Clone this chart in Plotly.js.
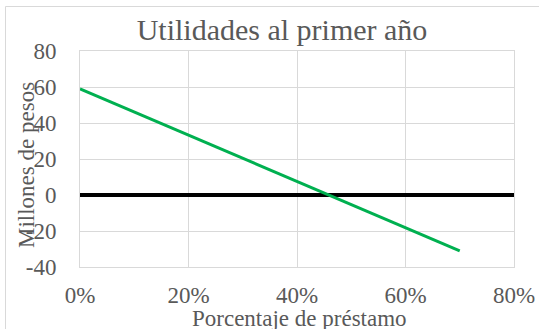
<!DOCTYPE html>
<html>
<head>
<meta charset="utf-8">
<script src="https://cdn.plot.ly/plotly-3.0.1.min.js"></script>
<style>html,body{margin:0;padding:0;background:#fff;}#chart{width:539px;height:329px;}</style>
</head>
<body>
<div id="chart"></div>
<script>
const prestamo = [0, 0.1, 0.2, 0.3, 0.4, 0.5, 0.6, 0.7];
const utilidades = [59, 46.1, 33.3, 20.4, 7.6, -5.3, -18.1, -31];
const zeroX = [0, 0.8];
const zeroY = [0, 0];
const xTickVals = [0, 0.2, 0.4, 0.6, 0.8];
const xTickText = ["0%", "20%", "40%", "60%", "80%"];
const yTickVals = [-40, -20, 0, 20, 40, 60, 80];
const yTickText = ["-40", "-20", "0", "20", "40", "60", "80"];
const titleText = "Utilidades al primer año";
const xTitle = "Porcentaje de préstamo";
const yTitle = "Millones de pesos";

const font = "'Liberation Serif', 'Times New Roman', serif";
const gray = "#595959";
const grid = "#d9d9d9";

const traces = [
  {x: zeroX, y: zeroY, mode: "lines", line: {color: "#000000", width: 4}, hoverinfo: "skip"},
  {x: prestamo, y: utilidades, mode: "lines", line: {color: "#00b050", width: 3}}
];

const layout = {
  width: 539, height: 329,
  margin: {l: 80, r: 25, t: 51, b: 62},
  paper_bgcolor: "#fff", plot_bgcolor: "#fff",
  showlegend: false,
  font: {family: font, color: gray, size: 23},
  title: {text: titleText, font: {family: font, size: 30, color: gray},
          xref: "container", x: 282/539, xanchor: "center",
          yref: "container", y: 1 - 29/329, yanchor: "middle"},
  xaxis: {range: [0, 0.8], tickmode: "array", tickvals: xTickVals, ticktext: xTickText,
          showgrid: true, gridcolor: grid, gridwidth: 1,
          showline: true, linecolor: grid, linewidth: 1, mirror: true,
          zeroline: false, ticks: "", ticklabelstandoff: 7,
          tickfont: {family: font, size: 23, color: gray}},
  yaxis: {range: [-40, 80], tickmode: "array", tickvals: yTickVals, ticktext: yTickText,
          showgrid: true, gridcolor: grid, gridwidth: 1,
          showline: true, linecolor: grid, linewidth: 1, mirror: true,
          zeroline: false, ticks: "", ticklabelstandoff: 18,
          tickfont: {family: font, size: 23, color: gray}},
  annotations: [
    {text: xTitle, xref: "paper", yref: "paper", x: (299-80)/434, y: (267-318)/216,
     xanchor: "center", yanchor: "middle", showarrow: false,
     font: {family: font, size: 23, color: gray}},
    {text: yTitle, xref: "paper", yref: "paper", x: (26-80)/434, y: (267-165)/216,
     xanchor: "center", yanchor: "middle", textangle: -90, showarrow: false,
     font: {family: font, size: 23, color: gray}}
  ],
  shapes: [
    {type: "rect", xref: "paper", yref: "paper", x0: (5.5-80)/434, x1: 1.3, y0: -0.5, y1: (267-6.5)/216,
     line: {color: grid, width: 1}, fillcolor: "rgba(0,0,0,0)", layer: "below"}
  ]
};

Plotly.newPlot("chart", traces, layout, {staticPlot: true, displayModeBar: false});
</script>
</body>
</html>
